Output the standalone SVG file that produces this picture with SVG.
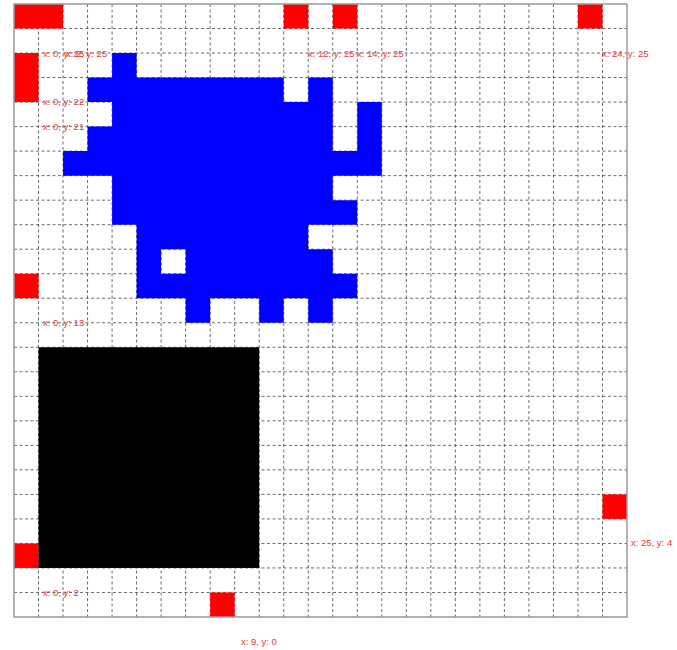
<svg xmlns="http://www.w3.org/2000/svg" width="677" height="650" viewBox="0 0 677 650">
<style>
.grid line{stroke:#5a5a5a;stroke-width:0.9;stroke-dasharray:3 2.5;fill:none}
.red{fill:#ff0000}
.blue{fill:#0000ff}
.black{fill:#000}
.lbl{font-family:"Liberation Sans",Arial,sans-serif;font-size:9.5px;fill:#e53a3a}
</style>
<rect width="677" height="650" fill="#fff"/>
<g id="grid" class="grid">
<line x1="38.52" y1="4" x2="38.52" y2="617"/>
<line x1="63.04" y1="4" x2="63.04" y2="617"/>
<line x1="87.56" y1="4" x2="87.56" y2="617"/>
<line x1="112.08" y1="4" x2="112.08" y2="617"/>
<line x1="136.6" y1="4" x2="136.6" y2="617"/>
<line x1="161.12" y1="4" x2="161.12" y2="617"/>
<line x1="185.64" y1="4" x2="185.64" y2="617"/>
<line x1="210.16" y1="4" x2="210.16" y2="617"/>
<line x1="234.68" y1="4" x2="234.68" y2="617"/>
<line x1="259.2" y1="4" x2="259.2" y2="617"/>
<line x1="283.72" y1="4" x2="283.72" y2="617"/>
<line x1="308.24" y1="4" x2="308.24" y2="617"/>
<line x1="332.76" y1="4" x2="332.76" y2="617"/>
<line x1="357.28" y1="4" x2="357.28" y2="617"/>
<line x1="381.8" y1="4" x2="381.8" y2="617"/>
<line x1="406.32" y1="4" x2="406.32" y2="617"/>
<line x1="430.84" y1="4" x2="430.84" y2="617"/>
<line x1="455.36" y1="4" x2="455.36" y2="617"/>
<line x1="479.88" y1="4" x2="479.88" y2="617"/>
<line x1="504.4" y1="4" x2="504.4" y2="617"/>
<line x1="528.92" y1="4" x2="528.92" y2="617"/>
<line x1="553.44" y1="4" x2="553.44" y2="617"/>
<line x1="577.96" y1="4" x2="577.96" y2="617"/>
<line x1="602.48" y1="4" x2="602.48" y2="617"/>
<line x1="14" y1="28.52" x2="627" y2="28.52"/>
<line x1="14" y1="53.04" x2="627" y2="53.04"/>
<line x1="14" y1="77.56" x2="627" y2="77.56"/>
<line x1="14" y1="102.08" x2="627" y2="102.08"/>
<line x1="14" y1="126.6" x2="627" y2="126.6"/>
<line x1="14" y1="151.12" x2="627" y2="151.12"/>
<line x1="14" y1="175.64" x2="627" y2="175.64"/>
<line x1="14" y1="200.16" x2="627" y2="200.16"/>
<line x1="14" y1="224.68" x2="627" y2="224.68"/>
<line x1="14" y1="249.2" x2="627" y2="249.2"/>
<line x1="14" y1="273.72" x2="627" y2="273.72"/>
<line x1="14" y1="298.24" x2="627" y2="298.24"/>
<line x1="14" y1="322.76" x2="627" y2="322.76"/>
<line x1="14" y1="347.28" x2="627" y2="347.28"/>
<line x1="14" y1="371.8" x2="627" y2="371.8"/>
<line x1="14" y1="396.32" x2="627" y2="396.32"/>
<line x1="14" y1="420.84" x2="627" y2="420.84"/>
<line x1="14" y1="445.36" x2="627" y2="445.36"/>
<line x1="14" y1="469.88" x2="627" y2="469.88"/>
<line x1="14" y1="494.4" x2="627" y2="494.4"/>
<line x1="14" y1="518.92" x2="627" y2="518.92"/>
<line x1="14" y1="543.44" x2="627" y2="543.44"/>
<line x1="14" y1="567.96" x2="627" y2="567.96"/>
<line x1="14" y1="592.48" x2="627" y2="592.48"/>
</g>
<g id="cells" transform="translate(14 4) scale(24.52)">
<g id="red-cells" class="red">
<rect x="0" y="0" width="2" height="1"/>
<rect x="0" y="2" width="1" height="2"/>
<rect x="11" y="0" width="1" height="1"/>
<rect x="13" y="0" width="1" height="1"/>
<rect x="23" y="0" width="1" height="1"/>
<rect x="0" y="11" width="1" height="1"/>
<rect x="24" y="20" width="1" height="1"/>
<rect x="0" y="22" width="1" height="1"/>
<rect x="8" y="24" width="1" height="1"/>
</g>
<g id="black-block"><rect class="black" x="1" y="14" width="9" height="9"/></g>
<g id="blue-shape"><path class="blue" d="M4 2H5V3H4Z M3 3H11V4H3Z M12 3H13V4H12Z M4 4H13V5H4Z M14 4H15V5H14Z M3 5H13V6H3Z M14 5H15V6H14Z M2 6H15V7H2Z M4 7H13V8H4Z M4 8H14V9H4Z M5 9H12V10H5Z M5 10H6V11H5Z M7 10H13V11H7Z M5 11H14V12H5Z M7 12H8V13H7Z M10 12H11V13H10Z M12 12H13V13H12Z"/></g>
</g>
<rect id="frame" x="14" y="4" width="613" height="613" fill="none" stroke="#9a9a9a" stroke-width="1.5"/>
<g id="labels" class="lbl">
<text x="43" y="56.5">x: 0, y: 25</text>
<text x="66" y="56.5">x: 2, y: 25</text>
<text x="43" y="104.5">x: 0, y: 22</text>
<text x="43" y="130">x: 0, y: 21</text>
<text x="308" y="56.5">x: 12, y: 25</text>
<text x="357" y="56.5">x: 14, y: 25</text>
<text x="602" y="56.5">x: 24, y: 25</text>
<text x="43" y="326">x: 0, y: 13</text>
<text x="631" y="546">x: 25, y: 4</text>
<text x="43" y="595.5">x: 0, y: 2</text>
<text x="241" y="644.5">x: 9, y: 0</text>
</g>
</svg>
